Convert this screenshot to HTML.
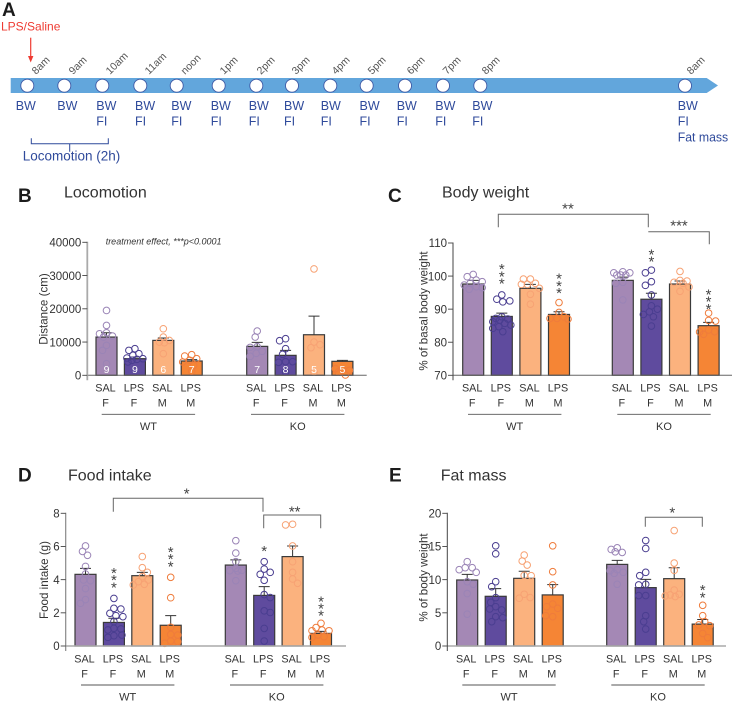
<!DOCTYPE html>
<html lang="en">
<head>
<meta charset="utf-8">
<title>LPS experiment figure</title>
<style>
html,body{margin:0;padding:0;background:#fff;}
body{width:734px;height:703px;overflow:hidden;}
svg{display:block;font-family:"Liberation Sans",sans-serif;}
.time{font-size:10.5px;fill:#555;}
.meas{font-size:12.5px;fill:#2f4a9b;}
.letter{font-size:19px;font-weight:bold;fill:#1c1c1c;}
.title{font-size:16px;fill:#333;}
</style>
</head>
<body>
<svg id="figure" width="734" height="703" viewBox="0 0 734 703" xmlns="http://www.w3.org/2000/svg">
<g>
<text class="letter" x="2" y="16">A</text>
<text x="1" y="30.5" font-size="12" fill="#ee3b32">LPS/Saline</text>
<path d="M30.7 37.7V58" stroke="#ee3b32" stroke-width="1.2" fill="none"/>
<path d="M28 56L30.7 62.5L33.4 56Z" fill="#ee3b32"/>
<path d="M10.7 78H706.7L718 85.5L706.7 93H10.7Z" fill="#62a6dc"/>
<g fill="#fff" stroke="#3f5aa6" stroke-width="0.9">
<circle cx="27.3" cy="85.7" r="6.5"/>
<circle cx="64.3" cy="85.7" r="6.5"/>
<circle cx="102.3" cy="85.7" r="6.5"/>
<circle cx="140.3" cy="85.7" r="6.5"/>
<circle cx="176.7" cy="85.7" r="6.5"/>
<circle cx="218.7" cy="85.7" r="6.5"/>
<circle cx="256.3" cy="85.7" r="6.5"/>
<circle cx="292" cy="85.7" r="6.5"/>
<circle cx="330.3" cy="85.7" r="6.5"/>
<circle cx="366.7" cy="85.7" r="6.5"/>
<circle cx="405" cy="85.7" r="6.5"/>
<circle cx="443" cy="85.7" r="6.5"/>
<circle cx="480.3" cy="85.7" r="6.5"/>
<circle cx="685" cy="85.7" r="6.5"/>
</g>
<g>
<text class="time" transform="translate(36 75) rotate(-45)">8am</text>
<text class="time" transform="translate(73 75) rotate(-45)">9am</text>
<text class="time" transform="translate(110 75) rotate(-45)">10am</text>
<text class="time" transform="translate(149 75) rotate(-45)">11am</text>
<text class="time" transform="translate(185 75) rotate(-45)">noon</text>
<text class="time" transform="translate(224 75) rotate(-45)">1pm</text>
<text class="time" transform="translate(261 75) rotate(-45)">2pm</text>
<text class="time" transform="translate(296 75) rotate(-45)">3pm</text>
<text class="time" transform="translate(336 75) rotate(-45)">4pm</text>
<text class="time" transform="translate(372 75) rotate(-45)">5pm</text>
<text class="time" transform="translate(411 75) rotate(-45)">6pm</text>
<text class="time" transform="translate(447 75) rotate(-45)">7pm</text>
<text class="time" transform="translate(486 75) rotate(-45)">8pm</text>
<text class="time" transform="translate(691 75) rotate(-45)">8am</text>
</g>
<g>
<text class="meas" x="15.7" y="110">BW</text>
<text class="meas" x="57.3" y="110">BW</text>
<text class="meas" x="96.3" y="110">BW</text>
<text class="meas" x="96.3" y="125.7">FI</text>
<text class="meas" x="135" y="110">BW</text>
<text class="meas" x="135" y="125.7">FI</text>
<text class="meas" x="171.3" y="110">BW</text>
<text class="meas" x="171.3" y="125.7">FI</text>
<text class="meas" x="210.7" y="110">BW</text>
<text class="meas" x="210.7" y="125.7">FI</text>
<text class="meas" x="248.7" y="110">BW</text>
<text class="meas" x="248.7" y="125.7">FI</text>
<text class="meas" x="284" y="110">BW</text>
<text class="meas" x="284" y="125.7">FI</text>
<text class="meas" x="320.7" y="110">BW</text>
<text class="meas" x="320.7" y="125.7">FI</text>
<text class="meas" x="359.5" y="110">BW</text>
<text class="meas" x="359.5" y="125.7">FI</text>
<text class="meas" x="396.7" y="110">BW</text>
<text class="meas" x="396.7" y="125.7">FI</text>
<text class="meas" x="435.3" y="110">BW</text>
<text class="meas" x="435.3" y="125.7">FI</text>
<text class="meas" x="472.3" y="110">BW</text>
<text class="meas" x="472.3" y="125.7">FI</text>
<text class="meas" x="677.7" y="110">BW</text>
<text class="meas" x="677.7" y="125.7">FI</text>
<text class="meas" x="677.7" y="141.7" style="font-size:13px" textLength="50.5" lengthAdjust="spacingAndGlyphs">Fat mass</text>
</g>
<path d="M31.3 138.3V143.7H108.3V138.3M69.7 143.7V151.7" fill="none" stroke="#2f4a9b" stroke-width="1"/>
<text x="22.7" y="160.7" font-size="13.5" fill="#2f4a9b">Locomotion (2h)</text>
</g>
<text class="letter" x="18" y="202">B</text>
<text class="letter" x="388" y="202">C</text>
<text class="letter" x="18" y="481.7">D</text>
<text class="letter" x="389" y="481.7">E</text>
<text class="title" x="64" y="197.3">Locomotion</text>
<text class="title" x="442" y="197.3">Body weight</text>
<text class="title" x="68" y="480.7">Food intake</text>
<text class="title" x="440.7" y="480.7">Fat mass</text>
<text x="105.7" y="244.3" font-size="9" font-style="italic" fill="#333">treatment effect, ***p&lt;0.0001</text>
</svg>
<script>
// Shared categories
const treatments = ['SAL', 'LPS', 'SAL', 'LPS', 'SAL', 'LPS', 'SAL', 'LPS'];
const sexes = ['F', 'F', 'M', 'M', 'F', 'F', 'M', 'M'];
const genotypes = ['WT', 'KO'];

// Panel B: locomotion
const locomotionTicks = [0, 10000, 20000, 30000, 40000];
const locomotionMeans = [11500, 5000, 10500, 4300, 8700, 6000, 12200, 4200];
const locomotionSems = [1300, 500, 700, 400, 1200, 1500, 5600, 300];
const locomotionCounts = [9, 9, 6, 7, 7, 8, 5, 5];
const locomotionPoints = [
  [19500, 15000, 12800, 12500, 11800, 11500, 9000, 7500, 3500],
  [8000, 7500, 6500, 6000, 5200, 5000, 4800, 4500, 4000],
  [14000, 11500, 10500, 10000, 9800, 6500],
  [6200, 5800, 5000, 4500, 4000, 3000, 1200],
  [13300, 11500, 8600, 8400, 7200, 6600, 5700],
  [11000, 10400, 8000, 6300, 4100, 3900, 4100, 1000],
  [32000, 10000, 9200, 8300, 1000],
  [1700, 2000, 1500, 1000, 100]
];

// Panel C: body weight
const weightTicks = [70, 80, 90, 100, 110];
const weightMeans = [97.6, 87.8, 96.3, 88.4, 98.7, 93, 97.6, 85];
const weightSems = [1.1, 1, 1.2, 0.8, 1, 1.8, 0.9, 1];
const weightPoints = [
  [100.5, 99.8, 98.8, 98.3, 97.8, 97.3, 96.8, 96.5, 96],
  [94.3, 93, 92.2, 92.5, 87.7, 87.2, 87, 86.7, 86.2, 85.7, 85.2, 84.7, 84.2, 83.2],
  [99.1, 99.1, 97.8, 97.5, 97.5, 96.3, 94.5, 91.5],
  [92, 89, 87.7, 87.2, 87.2, 87],
  [101.3, 100.3, 101, 101, 100.3, 100.3, 98.1, 97.8, 92.8],
  [101.8, 101, 98.3, 97.2, 94.3, 91, 90, 89.2, 88.4, 87.7, 84.9],
  [101.4, 98.7, 98.5, 98.1, 97.8, 96.7, 95.4],
  [88.8, 86.6, 86.4, 83.7, 83.2, 82.4, 83.1]
];

// Panel D: food intake
const foodTicks = [0, 2, 4, 6, 8];
const foodMeans = [4.32, 1.42, 4.24, 1.25, 4.88, 3.05, 5.39, 0.76];
const foodSems = [0.36, 0.25, 0.2, 0.58, 0.31, 0.53, 0.64, 0.12];
const foodPoints = [
  [6.03, 5.7, 5.47, 4.8, 4.34, 3.98, 3.94, 3.46, 2.8, 2.57],
  [2.87, 2.27, 2.23, 1.97, 1.83, 1.77, 1.47, 1.07, 1.03, 0.97, 0.62, 0.66, 0.52],
  [5.39, 4.72, 4.44, 4.18, 3.98, 3.88, 3.72, 3.68],
  [4.14, 2.91, 1.13, 0.7, 0.66, 0.3, 0.26, 0.16],
  [6.35, 5.6, 5.08, 4.68, 4.56, 4.54, 4.52, 3.94],
  [5.08, 4.64, 4.44, 4.32, 3.96, 3.1, 2.92, 2.12, 2.02, 1.06, 0.3],
  [7.34, 7.3, 6.03, 5.08, 4.44, 4.04, 3.78],
  [1.37, 1.11, 0.96, 0.92, 0.92, 0.66, 0.56, 0.52]
];

// Panel E: fat mass
const fatTicks = [0, 5, 10, 15, 20];
const fatMeans = [9.95, 7.49, 10.2, 7.7, 12.3, 8.8, 10.15, 3.3];
const fatSems = [0.85, 1.15, 1.06, 1.55, 0.6, 1.25, 1.65, 0.7];
const fatPoints = [
  [12.7, 11.8, 11.8, 11.5, 11.1, 9.7, 9.3, 7.9, 4.8],
  [15.1, 13.9, 9.7, 8.94, 7.29, 6.58, 5.93, 5.58, 5.43, 4.42, 4.27, 3.67],
  [13.7, 12.8, 12.2, 10.65, 10.6, 7.8, 7.3, 7.2],
  [15.1, 11.2, 9.2, 6.33, 5.68, 5.93, 4.42, 4.57],
  [14.8, 14.55, 14.1, 14.2, 11.5, 11.35, 11.1, 10.95, 9.3],
  [15.9, 14.7, 11.1, 10.6, 9.3, 9.2, 7.6, 7.6, 4.57, 3.67, 2.56],
  [17.4, 12.5, 11.4, 8.44, 7.8, 7.7, 7.55, 7.45],
  [6.13, 4.57, 3.67, 3.17, 3.07, 1.9, 1.26]
];

// Significance stacks above bars: bar index, star count, centre value
const weightStars = [[1, 3, 101], [3, 3, 98.1], [5, 2, 106.5], [7, 3, 93.3]];
const foodStars = [[1, 3, 4.18], [3, 3, 5.45], [5, 1, 5.95], [7, 3, 2.47]];
const fatStars = [[7, 2, 8.4]];

const SVG_NS = 'http://www.w3.org/2000/svg';
const figure = document.getElementById('figure');
const barFills = ['#a488b5', '#5f4b9e', '#fbb27e', '#f58535'];
const pointStrokes = ['#9a84b6', '#4a3e90', '#f7a274', '#ef7c3c'];

function make(parent, tag, attrs, text) {
  const el = document.createElementNS(SVG_NS, tag);
  for (const k in attrs) el.setAttribute(k, attrs[k]);
  if (text !== undefined) el.textContent = text;
  parent.appendChild(el);
  return el;
}

// Horizontal offsets for a column of dots, spreading them within the bar width
function swarm(values, scale) {
  const minDist = 6.2;
  const maxOff = 9;
  const placed = [];
  return values.map(function (v, idx) {
    const py = scale(v);
    const sign = idx % 2 === 0 ? 1 : -1;
    let best = 0;
    let bestDist = -1;
    for (let k = 0; k <= 2 * maxOff; k++) {
      const mag = Math.ceil(k / 2);
      const off = (k % 2 === 1 ? sign : -sign) * mag;
      let d = Infinity;
      placed.forEach(function (p) { d = Math.min(d, Math.hypot(p[0] - off, p[1] - py)); });
      if (d >= minDist) { best = off; bestDist = d; break; }
      if (d > bestDist) { best = off; bestDist = d; }
    }
    placed.push([best, py]);
    return best;
  });
}

function drawPanel(cfg) {
  const g = make(figure, 'g', {});
  
  

  const yScale = function (v) {
    return cfg.y0 + (v - cfg.ticks[0]) / (cfg.ticks[cfg.ticks.length - 1] - cfg.ticks[0]) * (cfg.y1 - cfg.y0);
  };
  const xLeft = function (i) {
    return i < 4 ? cfg.x0 + i * cfg.step : cfg.x0 + cfg.groupGap + (i - 4) * cfg.step;
  };
  const barW = 21;

  cfg.means.forEach(function (m, i) {
    const x = xLeft(i);
    const cx = x + barW / 2;
    const kind = i % 4;

    const bar = make(g, 'rect', { x: x, y: yScale(m), width: barW, height: cfg.y0 - yScale(m), fill: barFills[kind], stroke: '#3a3a3a', 'stroke-width': 1.2 });
    
    

    const err = make(g, 'path', { d: 'M' + cx + ' ' + yScale(m) + 'V' + yScale(m + cfg.sems[i]) + 'M' + (cx - 5.5) + ' ' + yScale(m + cfg.sems[i]) + 'H' + (cx + 5.5), stroke: '#333', 'stroke-width': 1, fill: 'none' });
    
    

    const offs = swarm(cfg.points[i], yScale);
    cfg.points[i].forEach(function (v, j) {
      const dot = make(g, 'circle', { cx: cx + offs[j], cy: yScale(v), r: 3.3, fill: 'none', stroke: pointStrokes[kind], 'stroke-width': 1 });
      
      
    });

    const t1 = make(g, 'text', { x: cx - 1, y: cfg.y0 + 16.4, 'font-size': 10.8, fill: '#333', 'text-anchor': 'middle' }, treatments[i]);
    
    

    const t2 = make(g, 'text', { x: cx - 1, y: cfg.y0 + 31.4, 'font-size': 10.8, fill: '#333', 'text-anchor': 'middle' }, sexes[i]);
    
    

    if (cfg.counts) {
      const n = make(g, 'text', { x: cx, y: cfg.y0 - 2.5, 'font-size': 10.5, fill: '#fff', 'text-anchor': 'middle' }, cfg.counts[i]);
      
      
    }
  });

  (cfg.stars || []).forEach(function (s) {
    const cx = xLeft(s[0]) + barW / 2;
    const spacing = 7.2;
    for (let k = 0; k < s[1]; k++) {
      const cy = yScale(s[2]) + (k - (s[1] - 1) / 2) * spacing;
      const star = make(g, 'text', { x: cx, y: cy + 8.5, 'font-size': 15, fill: '#444', 'text-anchor': 'middle' }, '*');
      
      
    }
  });

  const baseline = make(g, 'line', { x1: cfg.axisX, x2: cfg.baseEnd, y1: cfg.y0, y2: cfg.y0, stroke: cfg.baseColor, 'stroke-width': cfg.baseWidth });
  
  

  const axis = make(g, 'line', { x1: cfg.axisX, x2: cfg.axisX, y1: cfg.y1 - 0.5, y2: cfg.y0 + 5, stroke: cfg.axisColor, 'stroke-width': cfg.axisWidth });
  
  

  cfg.ticks.forEach(function (t) {
    const tick = make(g, 'line', { x1: cfg.axisX - 5, x2: cfg.axisX, y1: yScale(t), y2: yScale(t), stroke: '#444', 'stroke-width': 0.9 });
    
    
    const lab = make(g, 'text', { x: cfg.axisX - 6, y: yScale(t) + 4.2, 'font-size': 11.5, fill: '#333', 'text-anchor': 'end' }, t);
    
    
  });

  const yTitle = make(g, 'text', { transform: 'translate(' + cfg.titleX + ' ' + cfg.titleY + ') rotate(-90)', 'font-size': 11.6, fill: '#333', 'text-anchor': 'middle' }, cfg.yTitle);
  
  

  genotypes.forEach(function (label, gi) {
    const gx = cfg.groupX + gi * cfg.groupGapLine;
    const line = make(g, 'line', { x1: gx, x2: gx + 93.4, y1: cfg.y0 + 39, y2: cfg.y0 + 39, stroke: '#555', 'stroke-width': 0.9 });
    
    
    const txt = make(g, 'text', { x: gx + 46.7, y: cfg.y0 + 54.7, 'font-size': 11, fill: '#333', 'text-anchor': 'middle' }, label);
    
    
  });
}

drawPanel({ name: 'locomotion', ticks: locomotionTicks, means: locomotionMeans, sems: locomotionSems, points: locomotionPoints, counts: locomotionCounts,
  y0: 375.3, y1: 242.3, x0: 96, step: 28.4, groupGap: 150.7, axisX: 87.3, baseEnd: 366.7, axisColor: '#aaa', axisWidth: 1.8, baseColor: '#666', baseWidth: 1,
  titleX: 47.5, titleY: 309, yTitle: 'Distance (cm)', groupX: 101.7, groupGapLine: 149.3 });

drawPanel({ name: 'body-weight', ticks: weightTicks, means: weightMeans, sems: weightSems, points: weightPoints, stars: weightStars,
  y0: 375.3, y1: 243, x0: 462.7, step: 28.6, groupGap: 149.6, axisX: 453, baseEnd: 732, axisColor: '#444', axisWidth: 1, baseColor: '#666', baseWidth: 1,
  titleX: 427.5, titleY: 311, yTitle: '% of basal body weight', groupX: 468, groupGapLine: 149.3 });

drawPanel({ name: 'food-intake', ticks: foodTicks, means: foodMeans, sems: foodSems, points: foodPoints, stars: foodStars,
  y0: 646, y1: 513.3, x0: 75, step: 28.4, groupGap: 150.3, axisX: 65.7, baseEnd: 346, axisColor: '#888', axisWidth: 1.2, baseColor: '#aaa', baseWidth: 1.6,
  titleX: 48, titleY: 580, yTitle: 'Food intake (g)', groupX: 81, groupGapLine: 149 });

drawPanel({ name: 'fat-mass', ticks: fatTicks, means: fatMeans, sems: fatSems, points: fatPoints, stars: fatStars,
  y0: 646, y1: 513.3, x0: 456.7, step: 28.5, groupGap: 150, axisX: 447.3, baseEnd: 726, axisColor: '#444', axisWidth: 1, baseColor: '#aaa', baseWidth: 1.6,
  titleX: 427.5, titleY: 577.5, yTitle: '% of body weight', groupX: 462.3, groupGapLine: 149 });

// Comparison brackets
function drawBracket(leftX, rightX, topY, leftDrop, rightDrop, label, labelX, labelY) {
  const path = make(figure, 'path', { d: 'M' + leftX + ' ' + leftDrop + 'V' + topY + 'H' + rightX + 'V' + rightDrop, fill: 'none', stroke: '#666', 'stroke-width': 1 });
  
  
  const txt = make(figure, 'text', { x: labelX, y: labelY + 8.5, 'font-size': 15, fill: '#444', 'text-anchor': 'middle' }, label);
  
  
}
drawBracket(498.3, 648.3, 214.3, 227.3, 227.3, '**', 568, 205);
drawBracket(648.3, 709.3, 231.7, 231.7, 244.3, '***', 679, 222);
drawBracket(113.3, 263, 498.3, 511.7, 511.7, '*', 186.7, 490);
drawBracket(263.7, 320.7, 515, 528.3, 528.3, '**', 294.7, 508);
drawBracket(645.3, 702.3, 517.3, 526.7, 526.7, '*', 672.3, 509);
</script>
</body>
</html>
